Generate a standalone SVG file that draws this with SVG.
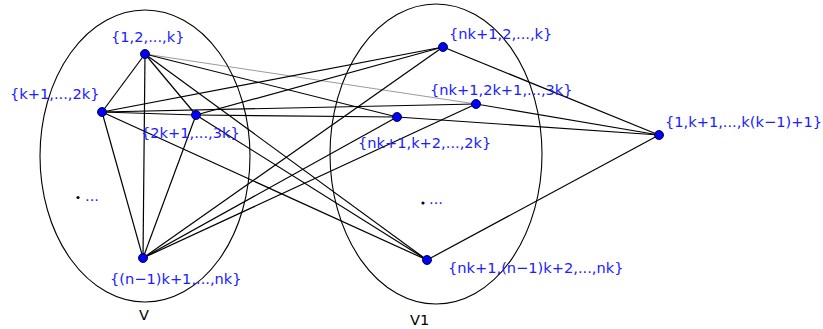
<svg xmlns="http://www.w3.org/2000/svg" width="823" height="329" viewBox="0 0 823 329">
<style>
.set{fill:none;stroke:#000;stroke-width:1.1}
.e{stroke:#000;stroke-width:1.2;fill:none}
.thin{stroke:#555;stroke-width:0.6;fill:none}
.n{fill:#0000ff;stroke:#000022;stroke-width:0.9}
.lbl{font-family:"DejaVu Sans",sans-serif;font-size:14.6px;fill:#2020ff}
.nm{font-family:"DejaVu Sans",sans-serif;font-size:14.6px;fill:#000}
.dot{fill:#000033}
</style>
<rect width="823" height="329" fill="#fff"/>
<g id="sets">
<ellipse class="set" cx="145" cy="156" rx="105" ry="146"/>
<ellipse class="set" cx="436" cy="154" rx="106" ry="150"/>
<text class="nm" x="139" y="320">V</text>
<text class="nm" x="410" y="325">V1</text>
</g>
<g id="connectors">
<line class="e" x1="145" y1="54" x2="102" y2="112"/>
<line class="e" x1="145" y1="54" x2="196" y2="115"/>
<line class="e" x1="145" y1="54" x2="143" y2="258"/>
<line class="e" x1="102" y1="112" x2="196" y2="115"/>
<line class="e" x1="102" y1="112" x2="143" y2="258"/>
<line class="e" x1="196" y1="115" x2="143" y2="258"/>
<line class="thin" x1="145" y1="54" x2="476" y2="104"/>
<line class="e" x1="145" y1="54" x2="397" y2="117"/>
<line class="e" x1="145" y1="54" x2="427" y2="260"/>
<line class="e" x1="102" y1="112" x2="443" y2="47"/>
<line class="e" x1="102" y1="112" x2="476" y2="104"/>
<line class="e" x1="102" y1="112" x2="427" y2="260"/>
<line class="e" x1="196" y1="115" x2="443" y2="47"/>
<line class="e" x1="196" y1="115" x2="397" y2="117"/>
<line class="e" x1="196" y1="115" x2="427" y2="260"/>
<line class="e" x1="143" y1="258" x2="443" y2="47"/>
<line class="e" x1="143" y1="258" x2="476" y2="104"/>
<line class="e" x1="143" y1="258" x2="397" y2="117"/>
<line class="e" x1="443" y1="47" x2="659" y2="135"/>
<line class="e" x1="476" y1="104" x2="659" y2="135"/>
<line class="e" x1="397" y1="117" x2="659" y2="135"/>
<line class="e" x1="427" y1="260" x2="659" y2="135"/>
</g>
<g id="nA"><circle class="n" cx="145" cy="54" r="4.5"/><text class="lbl" x="111" y="41.5">{1,2,...,k}</text></g>
<g id="nB"><circle class="n" cx="102" cy="112" r="4.5"/><text class="lbl" x="10" y="99">{k+1,...,2k}</text></g>
<g id="nC"><circle class="n" cx="196" cy="115" r="4.5"/><text class="lbl" x="141" y="138">{2k+1,...,3k}</text></g>
<g id="nD"><circle class="n" cx="143" cy="258" r="4.5"/><text class="lbl" x="110" y="284">{(n−1)k+1,...,nk}</text></g>
<g id="nE"><circle class="n" cx="443" cy="47" r="4.5"/><text class="lbl" x="449" y="39">{nk+1,2,...,k}</text></g>
<g id="nF"><circle class="n" cx="476" cy="104" r="4.5"/><text class="lbl" x="430" y="95">{nk+1,2k+1,...,3k}</text></g>
<g id="nG"><circle class="n" cx="397" cy="117" r="4.5"/><text class="lbl" x="358" y="148">{nk+1,k+2,...,2k}</text></g>
<g id="nH"><circle class="n" cx="427" cy="260" r="4.5"/><text class="lbl" x="448" y="273">{nk+1,(n−1)k+2,...,nk}</text></g>
<g id="nI"><circle class="n" cx="659" cy="135" r="4.5"/><text class="lbl" x="665" y="127">{1,k+1,...,k(k−1)+1}</text></g>
<g id="ellipsis1"><circle class="dot" cx="78" cy="197.5" r="1.6"/><text class="lbl" x="85" y="200.5">...</text></g>
<g id="ellipsis2"><circle class="dot" cx="423" cy="203" r="1.6"/><text class="lbl" x="429" y="204">...</text></g>
</svg>
